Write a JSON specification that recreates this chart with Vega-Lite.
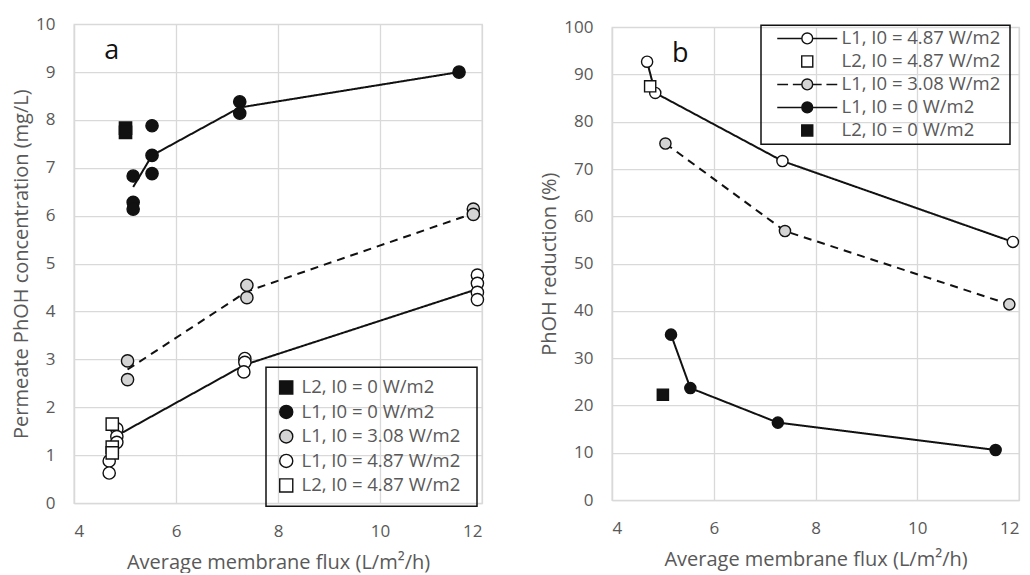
{
  "$schema": "https://vega.github.io/schema/vega-lite/v6.json",
  "background": "white",
  "padding": {"left": 10, "top": 14, "right": 5, "bottom": 0},
  "spacing": 52,
  "center": true,
  "datasets": {
    "conc_points": [
      {"flux": 11.55, "value": 9.0, "series": "L1, I0 =  0 W/m2"},
      {"flux": 7.25, "value": 8.38, "series": "L1, I0 =  0 W/m2"},
      {"flux": 7.25, "value": 8.14, "series": "L1, I0 =  0 W/m2"},
      {"flux": 5.53, "value": 7.88, "series": "L1, I0 =  0 W/m2"},
      {"flux": 5.53, "value": 7.26, "series": "L1, I0 =  0 W/m2"},
      {"flux": 5.53, "value": 6.88, "series": "L1, I0 =  0 W/m2"},
      {"flux": 5.16, "value": 6.83, "series": "L1, I0 =  0 W/m2"},
      {"flux": 5.16, "value": 6.28, "series": "L1, I0 =  0 W/m2"},
      {"flux": 5.16, "value": 6.14, "series": "L1, I0 =  0 W/m2"},
      {"flux": 11.83, "value": 6.14, "series": "L1, I0 =  3.08 W/m2"},
      {"flux": 11.83, "value": 6.03, "series": "L1, I0 =  3.08 W/m2"},
      {"flux": 7.39, "value": 4.55, "series": "L1, I0 =  3.08 W/m2"},
      {"flux": 7.39, "value": 4.29, "series": "L1, I0 =  3.08 W/m2"},
      {"flux": 5.05, "value": 2.97, "series": "L1, I0 =  3.08 W/m2"},
      {"flux": 5.05, "value": 2.58, "series": "L1, I0 =  3.08 W/m2"},
      {"flux": 11.91, "value": 4.76, "series": "L1, I0 =  4.87 W/m2"},
      {"flux": 11.91, "value": 4.59, "series": "L1, I0 =  4.87 W/m2"},
      {"flux": 11.91, "value": 4.4, "series": "L1, I0 =  4.87 W/m2"},
      {"flux": 11.91, "value": 4.25, "series": "L1, I0 =  4.87 W/m2"},
      {"flux": 7.35, "value": 3.02, "series": "L1, I0 =  4.87 W/m2"},
      {"flux": 7.35, "value": 2.94, "series": "L1, I0 =  4.87 W/m2"},
      {"flux": 7.33, "value": 2.74, "series": "L1, I0 =  4.87 W/m2"},
      {"flux": 4.84, "value": 1.55, "series": "L1, I0 =  4.87 W/m2"},
      {"flux": 4.84, "value": 1.39, "series": "L1, I0 =  4.87 W/m2"},
      {"flux": 4.84, "value": 1.27, "series": "L1, I0 =  4.87 W/m2"},
      {"flux": 4.69, "value": 0.88, "series": "L1, I0 =  4.87 W/m2"},
      {"flux": 4.69, "value": 0.63, "series": "L1, I0 =  4.87 W/m2"},
      {"flux": 5.01, "value": 7.83, "series": "L2, I0 =  0 W/m2"},
      {"flux": 5.01, "value": 7.74, "series": "L2, I0 =  0 W/m2"},
      {"flux": 4.75, "value": 1.65, "series": "L2, I0 =  4.87 W/m2"},
      {"flux": 4.75, "value": 1.17, "series": "L2, I0 =  4.87 W/m2"},
      {"flux": 4.75, "value": 1.05, "series": "L2, I0 =  4.87 W/m2"}
    ],
    "conc_means": [
      {"flux": 5.16, "value": 6.6, "series": "L1, I0 =  0 W/m2"},
      {"flux": 5.53, "value": 7.26, "series": "L1, I0 =  0 W/m2"},
      {"flux": 7.25, "value": 8.26, "series": "L1, I0 =  0 W/m2"},
      {"flux": 11.55, "value": 9.0, "series": "L1, I0 =  0 W/m2"},
      {"flux": 5.05, "value": 2.79, "series": "L1, I0 =  3.08 W/m2"},
      {"flux": 7.39, "value": 4.42, "series": "L1, I0 =  3.08 W/m2"},
      {"flux": 11.83, "value": 6.05, "series": "L1, I0 =  3.08 W/m2"},
      {"flux": 4.84, "value": 1.41, "series": "L1, I0 =  4.87 W/m2"},
      {"flux": 7.35, "value": 2.89, "series": "L1, I0 =  4.87 W/m2"},
      {"flux": 11.91, "value": 4.47, "series": "L1, I0 =  4.87 W/m2"}
    ],
    "reduction": [
      {"flux": 4.69, "value": 92.7, "series": "L1, I0 =  4.87 W/m2"},
      {"flux": 4.85, "value": 86.1, "series": "L1, I0 =  4.87 W/m2"},
      {"flux": 7.35, "value": 71.7, "series": "L1, I0 =  4.87 W/m2"},
      {"flux": 11.88, "value": 54.6, "series": "L1, I0 =  4.87 W/m2"},
      {"flux": 4.75, "value": 87.5, "series": "L2, I0 =  4.87 W/m2"},
      {"flux": 5.05, "value": 75.4, "series": "L1, I0 =  3.08 W/m2"},
      {"flux": 7.4, "value": 56.9, "series": "L1, I0 =  3.08 W/m2"},
      {"flux": 11.81, "value": 41.4, "series": "L1, I0 =  3.08 W/m2"},
      {"flux": 5.16, "value": 35.0, "series": "L1, I0 =  0 W/m2"},
      {"flux": 5.54, "value": 23.7, "series": "L1, I0 =  0 W/m2"},
      {"flux": 7.26, "value": 16.4, "series": "L1, I0 =  0 W/m2"},
      {"flux": 11.54, "value": 10.6, "series": "L1, I0 =  0 W/m2"},
      {"flux": 5.0, "value": 22.3, "series": "L2, I0 =  0 W/m2"}
    ]
  },
  "hconcat": [
    {
      "width": 408,
      "height": 479,
      "layer": [
        {
          "data": {"name": "conc_means"},
          "mark": {"type": "line", "color": "#111111", "strokeWidth": 2},
          "encoding": {
            "x": {"field": "flux", "type": "quantitative"},
            "y": {"field": "value", "type": "quantitative"},
            "strokeDash": {
              "field": "series", "type": "nominal", "legend": null,
              "scale": {"domain": ["L1, I0 =  0 W/m2", "L1, I0 =  3.08 W/m2", "L1, I0 =  4.87 W/m2"], "range": [[1, 0], [8, 6], [1, 0]]}
            }
          }
        },
        {
          "data": {"name": "conc_points"},
          "mark": {"type": "point", "filled": true, "stroke": "#111111", "strokeWidth": 1.4, "opacity": 1, "size": 150},
          "encoding": {
            "x": {
              "field": "flux", "type": "quantitative",
              "scale": {"domain": [4, 12], "nice": false},
              "axis": {"values": [4, 6, 8, 10, 12], "title": "Average membrane flux (L/m²/h)"}
            },
            "y": {
              "field": "value", "type": "quantitative",
              "scale": {"domain": [0, 10], "nice": false},
              "axis": {"values": [0, 1, 2, 3, 4, 5, 6, 7, 8, 9, 10], "title": "Permeate PhOH concentration  (mg/L)"}
            },
            "shape": {
              "field": "series", "type": "nominal", "legend": null,
              "scale": {
                "domain": ["L2, I0 =  0 W/m2", "L1, I0 =  0 W/m2", "L1, I0 =  3.08 W/m2", "L1, I0 =  4.87 W/m2", "L2, I0 =  4.87 W/m2"],
                "range": ["square", "circle", "circle", "circle", "square"]
              }
            },
            "fill": {
              "field": "series", "type": "nominal", "legend": null,
              "scale": {
                "domain": ["L2, I0 =  0 W/m2", "L1, I0 =  0 W/m2", "L1, I0 =  3.08 W/m2", "L1, I0 =  4.87 W/m2", "L2, I0 =  4.87 W/m2"],
                "range": ["#111111", "#111111", "#d4d4d4", "#ffffff", "#ffffff"]
              }
            }
          }
        },
        {
          "data": {"name": "conc_points"},
          "mark": {"type": "point", "filled": true, "opacity": 0, "size": 170},
          "encoding": {
            "x": {"field": "flux", "type": "quantitative"},
            "y": {"field": "value", "type": "quantitative"},
            "shape": {
              "field": "series", "type": "nominal",
              "scale": {
                "domain": ["L2, I0 =  0 W/m2", "L1, I0 =  0 W/m2", "L1, I0 =  3.08 W/m2", "L1, I0 =  4.87 W/m2", "L2, I0 =  4.87 W/m2"],
                "range": ["square", "circle", "circle", "circle", "square"]
              },
              "legend": {
                "orient": "none", "legendX": 192, "legendY": 343, "title": null,
                "strokeColor": "#111111", "padding": 11, "rowPadding": 4.5, "symbolOffset": 0,
                "symbolSize": 170, "symbolOpacity": 1, "symbolStrokeColor": "#111111", "symbolStrokeWidth": 1.4,
                "labelFontSize": 18.5, "labelColor": "#595959", "labelOffset": 6, "labelLimit": 400,
                "encode": {"symbols": {"update": {"stroke": {"value": "#111111"}, "strokeWidth": {"value": 1.4}, "opacity": {"value": 1}}}}
              }
            },
            "fill": {
              "field": "series", "type": "nominal",
              "scale": {
                "domain": ["L2, I0 =  0 W/m2", "L1, I0 =  0 W/m2", "L1, I0 =  3.08 W/m2", "L1, I0 =  4.87 W/m2", "L2, I0 =  4.87 W/m2"],
                "range": ["#111111", "#111111", "#d4d4d4", "#ffffff", "#ffffff"]
              },
              "legend": {
                "orient": "none", "legendX": 192, "legendY": 343, "title": null,
                "strokeColor": "#111111", "padding": 11, "rowPadding": 4.5, "symbolOffset": 0,
                "symbolSize": 170, "symbolOpacity": 1, "symbolStrokeColor": "#111111", "symbolStrokeWidth": 1.4,
                "labelFontSize": 18.5, "labelColor": "#595959", "labelOffset": 6, "labelLimit": 400,
                "encode": {"symbols": {"update": {"stroke": {"value": "#111111"}, "strokeWidth": {"value": 1.4}, "opacity": {"value": 1}}}}
              }
            }
          }
        },
        {
          "data": {"values": [{"flux": 4.74, "value": 9.45, "panel": "a"}]},
          "mark": {"type": "text", "fontSize": 27, "color": "#111111", "align": "center", "baseline": "middle"},
          "encoding": {
            "x": {"field": "flux", "type": "quantitative"},
            "y": {"field": "value", "type": "quantitative"},
            "text": {"field": "panel"}
          }
        }
      ],
      "resolve": {"scale": {"shape": "independent", "fill": "independent"}}
    },
    {
      "width": 407,
      "height": 473,
      "layer": [
        {
          "data": {"name": "reduction"},
          "transform": [{"filter": "indexof(datum.series, 'L1') === 0"}],
          "mark": {"type": "line", "color": "#111111", "strokeWidth": 2},
          "encoding": {
            "x": {"field": "flux", "type": "quantitative"},
            "y": {"field": "value", "type": "quantitative"},
            "strokeDash": {
              "field": "series", "type": "nominal", "legend": null,
              "scale": {"domain": ["L1, I0 =  4.87 W/m2", "L1, I0 =  3.08 W/m2", "L1, I0 =  0 W/m2"], "range": [[1, 0], [8, 6], [1, 0]]}
            }
          }
        },
        {
          "data": {"name": "reduction"},
          "mark": {"type": "point", "filled": true, "stroke": "#111111", "strokeWidth": 1.4, "opacity": 1, "size": 125},
          "encoding": {
            "x": {
              "field": "flux", "type": "quantitative",
              "scale": {"domain": [4, 12], "nice": false},
              "axis": {"values": [4, 6, 8, 10, 12], "title": "Average membrane flux (L/m²/h)"}
            },
            "y": {
              "field": "value", "type": "quantitative",
              "scale": {"domain": [0, 100], "nice": false},
              "axis": {"values": [0, 10, 20, 30, 40, 50, 60, 70, 80, 90, 100], "title": "PhOH reduction (%)"}
            },
            "shape": {
              "field": "series", "type": "nominal", "legend": null,
              "scale": {
                "domain": ["L1, I0 =  4.87 W/m2", "L2, I0 =  4.87 W/m2", "L1, I0 =  3.08 W/m2", "L1, I0 =  0 W/m2", "L2, I0 =  0 W/m2"],
                "range": ["circle", "square", "circle", "circle", "square"]
              }
            },
            "fill": {
              "field": "series", "type": "nominal", "legend": null,
              "scale": {
                "domain": ["L1, I0 =  4.87 W/m2", "L2, I0 =  4.87 W/m2", "L1, I0 =  3.08 W/m2", "L1, I0 =  0 W/m2", "L2, I0 =  0 W/m2"],
                "range": ["#ffffff", "#ffffff", "#d4d4d4", "#111111", "#111111"]
              }
            }
          }
        },
        {
          "data": {"name": "reduction"},
          "mark": {"type": "point", "filled": true, "opacity": 0, "size": 144},
          "encoding": {
            "x": {"field": "flux", "type": "quantitative"},
            "y": {"field": "value", "type": "quantitative"},
            "shape": {
              "field": "series", "type": "nominal",
              "scale": {
                "domain": ["L1, I0 =  4.87 W/m2", "L2, I0 =  4.87 W/m2", "L1, I0 =  3.08 W/m2", "L1, I0 =  0 W/m2", "L2, I0 =  0 W/m2"],
                "range": [
                  "M-5,0H-0.9M0.9,0H5M-0.9,0A0.9,0.9 0 1 0 0.9,0A0.9,0.9 0 1 0 -0.9,0Z",
                  "M-0.92,-0.92H0.92V0.92H-0.92Z",
                  "M-5,0H-3.2M-2.4,0H-0.9M0.9,0H2.4M3.2,0H5M-0.9,0A0.9,0.9 0 1 0 0.9,0A0.9,0.9 0 1 0 -0.9,0Z",
                  "M-5,0H-0.9M0.9,0H5M-0.9,0A0.9,0.9 0 1 0 0.9,0A0.9,0.9 0 1 0 -0.9,0Z",
                  "M-0.92,-0.92H0.92V0.92H-0.92Z"
                ]
              },
              "legend": {
                "orient": "none", "legendX": 149, "legendY": -2, "title": null,
                "strokeColor": "#111111", "padding": 4, "rowPadding": 4, "symbolOffset": 33,
                "symbolSize": 144, "symbolOpacity": 1, "symbolStrokeColor": "#111111", "symbolStrokeWidth": 1.4,
                "labelFontSize": 18.5, "labelColor": "#595959", "labelOffset": 25, "labelLimit": 400,
                "encode": {"symbols": {"update": {"stroke": {"value": "#111111"}, "strokeWidth": {"value": 1.4}, "opacity": {"value": 1}, "size": {"value": 144}}}}
              }
            },
            "fill": {
              "field": "series", "type": "nominal",
              "scale": {
                "domain": ["L1, I0 =  4.87 W/m2", "L2, I0 =  4.87 W/m2", "L1, I0 =  3.08 W/m2", "L1, I0 =  0 W/m2", "L2, I0 =  0 W/m2"],
                "range": ["#ffffff", "#ffffff", "#d4d4d4", "#111111", "#111111"]
              },
              "legend": {
                "orient": "none", "legendX": 149, "legendY": -2, "title": null,
                "strokeColor": "#111111", "padding": 4, "rowPadding": 4, "symbolOffset": 33,
                "symbolSize": 144, "symbolOpacity": 1, "symbolStrokeColor": "#111111", "symbolStrokeWidth": 1.4,
                "labelFontSize": 18.5, "labelColor": "#595959", "labelOffset": 25, "labelLimit": 400,
                "encode": {"symbols": {"update": {"stroke": {"value": "#111111"}, "strokeWidth": {"value": 1.4}, "opacity": {"value": 1}, "size": {"value": 144}}}}
              }
            }
          }
        },
        {
          "data": {"values": [{"flux": 5.34, "value": 94.4, "panel": "b"}]},
          "mark": {"type": "text", "fontSize": 27, "color": "#111111", "align": "center", "baseline": "middle"},
          "encoding": {
            "x": {"field": "flux", "type": "quantitative"},
            "y": {"field": "value", "type": "quantitative"},
            "text": {"field": "panel"}
          }
        }
      ],
      "resolve": {"scale": {"shape": "independent", "fill": "independent"}}
    }
  ],
  "resolve": {
    "scale": {"x": "independent", "y": "independent", "shape": "independent", "fill": "independent", "strokeDash": "independent"},
    "legend": {"shape": "independent", "fill": "independent", "strokeDash": "independent"}
  },
  "config": {
    "font": "Open Sans",
    "view": {"stroke": "#d9d9d9", "strokeWidth": 1.3},
    "axis": {
      "grid": true, "gridColor": "#d9d9d9", "gridWidth": 1.3,
      "domainColor": "#d9d9d9", "domainWidth": 1.3, "ticks": false,
      "labelColor": "#595959", "labelFontSize": 17, "labelPadding": 19,
      "titleColor": "#595959", "titleFontSize": 20, "titleFontWeight": "normal"
    },
    "axisX": {"labelPadding": 20, "titlePadding": 13},
    "axisY": {"titlePadding": 4},
    "legend": {"strokeWidth": 1.5, "labelFont": "Open Sans"}
  }
}
